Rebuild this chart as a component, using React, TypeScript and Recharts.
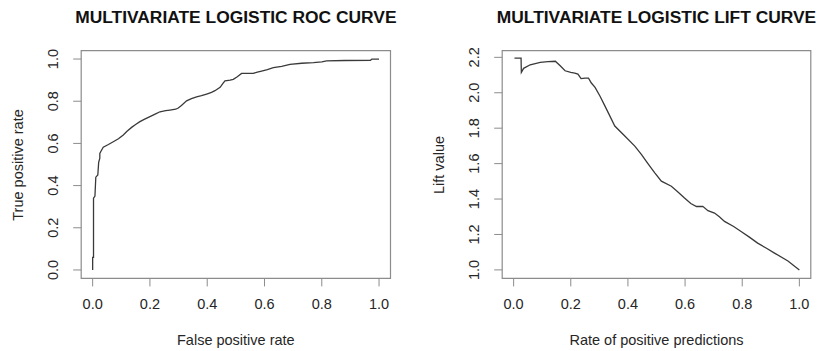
import React from 'react';
import { LineChart, Line, XAxis, YAxis, ReferenceArea } from 'recharts';

// ROC curve points (false positive rate, true positive rate)
const rocFpr = [0, 0, 0.003, 0.003, 0.008, 0.011, 0.018, 0.021, 0.025, 0.025, 0.03, 0.037, 0.055, 0.072, 0.09, 0.107, 0.12, 0.136, 0.15, 0.165, 0.18, 0.2, 0.22, 0.235, 0.255, 0.27, 0.29, 0.299, 0.31, 0.328, 0.345, 0.363, 0.38, 0.398, 0.415, 0.427, 0.445, 0.455, 0.462, 0.48, 0.491, 0.505, 0.52, 0.54, 0.561, 0.575, 0.59, 0.61, 0.631, 0.66, 0.689, 0.73, 0.771, 0.8, 0.817, 0.88, 0.97, 0.975, 1.0];
const rocTpr = [0, 0.06, 0.06, 0.34, 0.35, 0.44, 0.45, 0.51, 0.53, 0.553, 0.565, 0.582, 0.595, 0.608, 0.622, 0.64, 0.658, 0.676, 0.69, 0.703, 0.714, 0.727, 0.74, 0.75, 0.755, 0.758, 0.762, 0.768, 0.78, 0.802, 0.812, 0.821, 0.826, 0.834, 0.842, 0.85, 0.866, 0.885, 0.897, 0.9, 0.904, 0.916, 0.932, 0.932, 0.932, 0.938, 0.943, 0.95, 0.959, 0.965, 0.975, 0.98, 0.983, 0.987, 0.991, 0.993, 0.994, 1.0, 1.0];

// Lift curve points (rate of positive predictions, lift value)
const liftRpp = [0.003, 0.026, 0.027, 0.035, 0.058, 0.093, 0.12, 0.146, 0.163, 0.18, 0.2, 0.214, 0.225, 0.236, 0.25, 0.262, 0.272, 0.285, 0.302, 0.318, 0.331, 0.354, 0.389, 0.424, 0.447, 0.47, 0.494, 0.517, 0.552, 0.575, 0.598, 0.62, 0.64, 0.662, 0.68, 0.703, 0.72, 0.738, 0.77, 0.796, 0.825, 0.854, 0.885, 0.913, 0.96, 1.0];
const liftVal = [2.196, 2.196, 2.115, 2.138, 2.158, 2.172, 2.176, 2.178, 2.152, 2.124, 2.115, 2.111, 2.105, 2.08, 2.083, 2.083, 2.055, 2.03, 1.982, 1.93, 1.888, 1.812, 1.756, 1.699, 1.652, 1.6, 1.548, 1.501, 1.472, 1.44, 1.406, 1.375, 1.358, 1.359, 1.334, 1.321, 1.3, 1.274, 1.245, 1.217, 1.185, 1.151, 1.122, 1.095, 1.05, 1.0];

const unitTicks = [0, 0.2, 0.4, 0.6, 0.8, 1.0];
const liftTicks = [1.0, 1.2, 1.4, 1.6, 1.8, 2.0, 2.2];

const FONT = '"Liberation Sans", Arial, sans-serif';
const BOX = '#8c8c8c';
const INK = '#262626';
const CURVE = '#3a3a3a';

const XTick = (props: any) => {
  const { x, y, payload } = props;
  return (
    <text x={x} y={y} textAnchor="middle" dominantBaseline="central" fill={INK} fontSize={14.5} fontFamily={FONT}>
      {Number(payload.value).toFixed(1)}
    </text>
  );
};

const YTick = (props: any) => {
  const { x, y, payload } = props;
  return (
    <text x={x} y={y} transform={`rotate(-90, ${x}, ${y})`} textAnchor="middle" dominantBaseline="central" fill={INK} fontSize={14.5} fontFamily={FONT}>
      {Number(payload.value).toFixed(1)}
    </text>
  );
};

type PanelProps = {
  left: number;
  width: number;
  rightMargin: number;
  data: { x: number; y: number }[];
  xDomain: [number, number];
  yDomain: [number, number];
  yTicks: number[];
  title: string;
  xLabel: string;
  yLabel: string;
};

const PLOT_LEFT = 81.2;
const PLOT_TOP = 50.6;
const PLOT_BOTTOM = 278.4;
const H = 351;

const Panel: React.FC<PanelProps> = ({ left, width, rightMargin, data, xDomain, yDomain, yTicks, title, xLabel, yLabel }) => {
  const cx = PLOT_LEFT + (width - rightMargin - PLOT_LEFT) / 2;
  const cy = (PLOT_TOP + PLOT_BOTTOM) / 2;
  return (
    <div style={{ position: 'absolute', left, top: 0, width, height: H }}>
      <LineChart width={width} height={H} data={data} margin={{ top: PLOT_TOP, right: rightMargin, bottom: 0, left: 0 }}>
        <XAxis
          type="number"
          dataKey="x"
          domain={xDomain}
          ticks={unitTicks}
          allowDataOverflow
          height={H - PLOT_BOTTOM}
          axisLine={false}
          tickLine={{ stroke: BOX, strokeWidth: 1 }}
          tickSize={8}
          tickMargin={18}
          tick={<XTick />}
          interval={0}
        />
        <YAxis
          type="number"
          dataKey="y"
          domain={yDomain}
          ticks={yTicks}
          allowDataOverflow
          width={PLOT_LEFT}
          axisLine={false}
          tickLine={{ stroke: BOX, strokeWidth: 1 }}
          tickSize={8}
          tickMargin={20}
          tick={<YTick />}
          interval={0}
        />
        <ReferenceArea x1={xDomain[0]} x2={xDomain[1]} y1={yDomain[0]} y2={yDomain[1]} fill="none" fillOpacity={0} stroke={BOX} strokeWidth={1.2} ifOverflow="visible" />
        <Line type="linear" dataKey="y" stroke={CURVE} strokeWidth={1.3} dot={false} isAnimationActive={false} />
      </LineChart>
      <div style={{ position: 'absolute', left: cx, top: 17.5, transform: 'translate(-50%, -50%)', whiteSpace: 'nowrap', fontFamily: FONT, fontWeight: 'bold', fontSize: 17.4, lineHeight: 1, color: '#111' }}>
        {title}
      </div>
      <div style={{ position: 'absolute', left: cx, top: 339.5, transform: 'translate(-50%, -50%)', whiteSpace: 'nowrap', fontFamily: FONT, fontSize: 14.5, lineHeight: 1, color: INK }}>
        {xLabel}
      </div>
      <div style={{ position: 'absolute', left: 18.3, top: cy, transform: 'translate(-50%, -50%) rotate(-90deg)', whiteSpace: 'nowrap', fontFamily: FONT, fontSize: 14.5, lineHeight: 1, color: INK }}>
        {yLabel}
      </div>
    </div>
  );
};

export default function App() {
  const rocData = rocFpr.map((x, i) => ({ x, y: rocTpr[i] }));
  const liftData = liftRpp.map((x, i) => ({ x, y: liftVal[i] }));
  return (
    <div style={{ position: 'absolute', left: 0, top: 0, width: 817, height: H, background: '#fff', overflow: 'hidden' }}>
      <Panel
        left={0}
        width={410}
        rightMargin={19.5}
        data={rocData}
        xDomain={[-0.04, 1.04]}
        yDomain={[-0.04, 1.04]}
        yTicks={unitTicks}
        title="MULTIVARIATE LOGISTIC ROC CURVE"
        xLabel="False positive rate"
        yLabel="True positive rate"
      />
      <Panel
        left={421}
        width={396}
        rightMargin={6.2}
        data={liftData}
        xDomain={[-0.04, 1.04]}
        yDomain={[0.952, 2.238]}
        yTicks={liftTicks}
        title="MULTIVARIATE LOGISTIC LIFT CURVE"
        xLabel="Rate of positive predictions"
        yLabel="Lift value"
      />
    </div>
  );
}
